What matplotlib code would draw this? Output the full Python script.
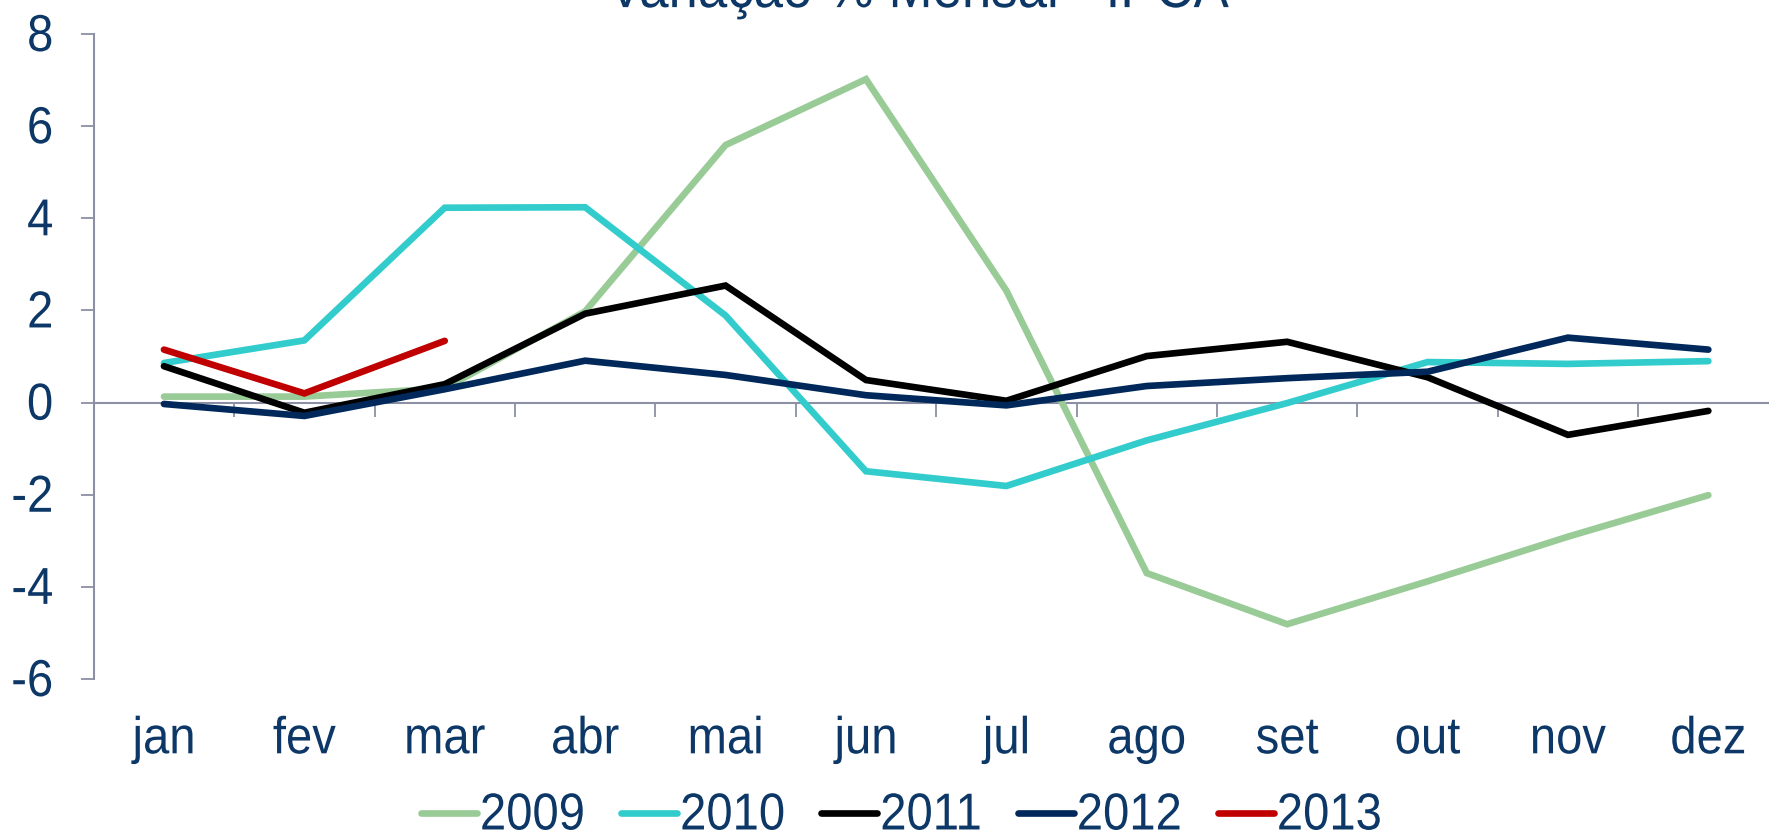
import matplotlib
matplotlib.use("Agg")
import matplotlib.pyplot as plt
from matplotlib.patheffects import AbstractPathEffect
from matplotlib.transforms import Affine2D

plt.rcParams['font.family'] = ['Liberation Sans', 'DejaVu Sans']
plt.rcParams['axes.unicode_minus'] = False

# monthly variation (%) per year
meses = ['jan', 'fev', 'mar', 'abr', 'mai', 'jun',
         'jul', 'ago', 'set', 'out', 'nov', 'dez']
v2009 = [0.13, 0.13, 0.31, 1.98, 5.59, 7.02, 2.43, -3.70, -4.81, -3.88, -2.91, -2.01]
v2010 = [0.86, 1.35, 4.23, 4.24, 1.89, -1.49, -1.81, -0.82, -0.01, 0.88, 0.84, 0.90]
v2011 = [0.79, -0.22, 0.40, 1.93, 2.54, 0.49, 0.04, 1.01, 1.32, 0.55, -0.70, -0.18]
v2012 = [-0.03, -0.29, 0.29, 0.91, 0.60, 0.16, -0.06, 0.36, 0.53, 0.67, 1.41, 1.15]
v2013 = [1.15, 0.20, 1.34]

anos = ['2009', '2010', '2011', '2012', '2013']
series = [v2009, v2010, v2011, v2012, v2013]
cores = ['#99CB96', '#33CCCC', '#000000', '#00285A', '#C00000']

azul = '#0C3766'
cinza = '#8C90A5'


class Tall(AbstractPathEffect):
    """Stretch glyphs vertically about the baseline."""

    def __init__(self, sy=1.1):
        super().__init__()
        self.sy = sy

    def draw_path(self, renderer, gc, tpath, affine, rgbFace=None):
        renderer.draw_path(gc, tpath, Affine2D().scale(1, self.sy) + affine, rgbFace)


tall = [Tall(1.1)]

fig = plt.figure(figsize=(17.69, 8.38), dpi=100)
ax = fig.add_axes([0.053, 0.1897, 0.9524, 0.7697])  # llx, lly, w, h

for ano, vals, cor in zip(anos, series, cores):
    ax.plot(range(len(vals)), vals, color=cor, lw=4.8, label=ano,
            solid_capstyle='round', solid_joinstyle='miter')

ax.set_xlim(-0.5, 11.5)
ax.set_ylim(-6, 8)

# y axis
ax.set_yticks(range(-6, 9, 2))
ax.set_yticklabels([str(v) for v in range(-6, 9, 2)])
ax.tick_params(axis='y', direction='out', length=9.6, width=1.3, color=cinza,
               pad=19.5, labelsize=34, labelcolor=azul)

# month labels at the bottom, without tick marks
ax.set_xticks(range(12))
ax.set_xticklabels(meses)
ax.tick_params(axis='x', length=0, pad=29, labelsize=34, labelcolor=azul)

for lab in ax.get_xticklabels() + ax.get_yticklabels():
    lab.set_path_effects(tall)

for s in ['top', 'right', 'bottom']:
    ax.spines[s].set_visible(False)
ax.spines['left'].set_color(cinza)
ax.spines['left'].set_linewidth(1.5)

# zero line with category tick marks
zero = ax.secondary_xaxis(6 / 14)
zero.set_xticks([k + 0.5 for k in range(11)])
zero.set_xticklabels([])
zero.tick_params(direction='out', length=10, width=1.3, color=cinza)
zero.spines['bottom'].set_color(cinza)
zero.spines['bottom'].set_linewidth(1.5)

fig.text(0.519, 0.9915, 'Variação % Mensal - IPCA', ha='center', va='baseline',
         fontsize=38, color=azul, path_effects=tall)

leg = fig.legend(loc='center', bbox_to_anchor=(0.5096, 0.0245), ncol=5,
                 frameon=False, fontsize=34, handlelength=1.19,
                 handletextpad=0.06, columnspacing=0.76, borderpad=0)
for t in leg.get_texts():
    t.set_color(azul)
    t.set_path_effects(tall)

fig.savefig('out.png', dpi=100)
